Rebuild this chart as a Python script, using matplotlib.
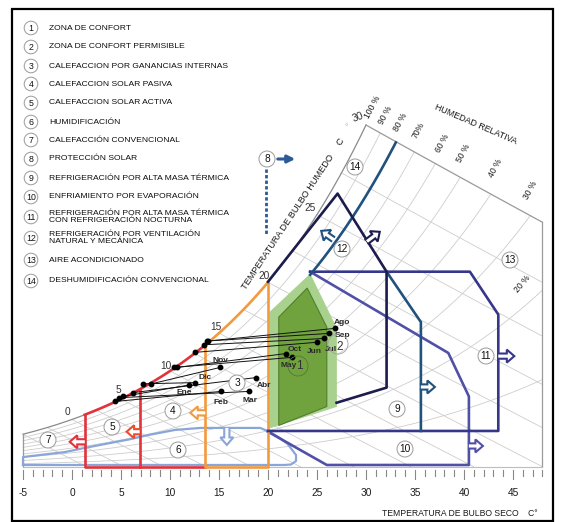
import numpy as np
import matplotlib
matplotlib.use("Agg")
import matplotlib.pyplot as plt
import matplotlib.transforms as mtransforms
from matplotlib.patches import Polygon, Circle, Rectangle

plt.rcParams['font.family'] = ['Liberation Sans', 'DejaVu Sans']

# ---------------- monthly conditions (dry bulb °C, humidity ratio g/kg) ----------------
months = ['Ene', 'Feb', 'Mar', 'Abr', 'May', 'Jun', 'Jul', 'Ago', 'Sep', 'Oct', 'Nov', 'Dic']
t_min = [5.2, 4.4, 4.8, 6.2, 10.4, 12.6, 13.5, 13.9, 13.8, 10.7, 8.1, 7.2]
w_at_tmin = [5.6, 5.2, 5.5, 5.9, 7.9, 9.1, 9.7, 10.0, 10.0, 7.9, 6.6, 6.6]
t_max = [11.9, 15.2, 18.1, 18.8, 22.4, 25.0, 25.7, 26.8, 26.2, 21.8, 15.1, 12.6]
w_at_tmax = [6.5, 6.0, 6.0, 7.1, 8.7, 9.9, 10.2, 11.0, 10.6, 9.0, 7.9, 6.7]
month_dx = [-4, 0, 1, 8, -3, -3, 7, 7, 14, 9, 0, 10]
month_dy = [-7, -11, -9, -8, -8, -9, -11, 6, -2, 4, 7, 5]

# ---------------- strategy zones (dry bulb °C, humidity ratio g/kg) ----------------
zone1_T = [21.1, 24.0, 26.0, 26.0, 21.1]
zone1_W = [11.9, 14.2, 11.1, 4.8, 3.3]
zone2_T = [20.2, 24.3, 27.0, 27.0, 20.2]
zone2_W = [12.3, 15.3, 11.0, 4.8, 3.1]
zone5_T = [1.3, 6.9, 13.6]          # red verticals / bottom limits
zone4_T = [13.6, 20.0]              # orange verticals
zone6_T = [-5.0, -5.0, -0.7, 1.8, 4.4, 5.9, 7.8, 10.5, 13.1, 16.1, 19.2, 20.2, 21.2,
           22.0, 22.55, 22.86, 22.86, 22.35, 21.7, -5.0]
zone6_W = [0.16, 0.79, 1.19, 1.59, 1.98, 2.2, 2.54, 2.94, 3.1, 3.1, 3.1, 2.78, 2.3,
           1.83, 1.27, 0.95, 0.48, 0.2, 0.16, 0.16]
zone12_T = [20.0, 27.1, 32.1, 32.1, 27.0]
zone12_W = [14.7, 21.7, 15.5, 6.3, 5.1]
zone9_T = [32.1, 35.6, 35.6]
zone9_W = [15.5, 11.5, 2.86]
zone11_T = [24.3, 40.6, 43.5, 43.5, 20.0]
zone11_W = [15.5, 15.5, 12.1, 2.86, 2.86]
zone10_T = [24.3, 38.4, 40.5, 40.5, 26.0, 20.0]
zone10_W = [15.5, 9.05, 5.6, 0.16, 0.16, 2.8]
dehum_rh = 0.80
dehum_t0 = 24.3

legend_nums = ['1', '2', '3', '4', '5', '6', '7', '8', '9', '10', '11', '12', '13', '14']
legend_texts = ['ZONA DE CONFORT', 'ZONA DE CONFORT PERMISIBLE',
                'CALEFACCION POR GANANCIAS INTERNAS', 'CALEFACCION SOLAR PASIVA',
                'CALEFACCION SOLAR ACTIVA', 'HUMIDIFICACIÓN', 'CALEFACCIÓN CONVENCIONAL',
                'PROTECCIÓN SOLAR', 'REFRIGERACIÓN POR ALTA MASA TÉRMICA',
                'ENFRIAMIENTO POR EVAPORACIÓN',
                'REFRIGERACIÓN POR ALTA MASA TÉRMICA\nCON REFRIGERACIÓN NOCTURNA',
                'REFRIGERACIÓN POR VENTILACIÓN\nNATURAL Y MECÁNICA',
                'AIRE ACONDICIONADO', 'DESHUMIDIFICACIÓN CONVENCIONAL']
legend_y = [28, 47, 66, 84, 103, 122, 140, 159, 178, 197, 217, 238, 260, 281]

x_ticks = list(range(-5, 49))
x_labels = [-5, 0, 5, 10, 15, 20, 25, 30, 35, 40, 45]
wb_labels = [0, 5, 10, 15, 20, 25, 30]
rh_levels = [0.1, 0.2, 0.3, 0.4, 0.5, 0.6, 0.7, 0.8, 0.9]

# ---------------- psychrometrics ----------------
P_ATM = 101.325


def p_ws(T):
    return 0.61094 * np.exp(17.625 * T / (T + 243.04))


def w_rh(T, rh):
    p = rh * p_ws(T)
    return 622.0 * p / (P_ATM - p)


def w_wb(T, tw):
    ws = w_rh(tw, 1.0) / 1000.0
    return 1000.0 * ((2501 - 2.326 * tw) * ws - 1.006 * (T - tw)) / (2501 + 1.86 * T - 4.186 * tw)


T_LEFT, T_RIGHT, TW_TOP = -5.0, 48.0, 30.0


def w_top(T):
    T = np.asarray(T, dtype=float)
    return np.where(T <= TW_TOP, w_rh(T, 1.0), w_wb(T, TW_TOP))


# ---------------- figure ----------------
W_PX, H_PX = 564, 522
fig = plt.figure(figsize=(W_PX / 100, H_PX / 100), dpi=100)
ax = fig.add_axes([0, 0, 1, 1])
ax.set_xlim((0 - 72) / 9.8, (W_PX - 72) / 9.8)
ax.set_ylim((467 - H_PX) / 12.6, 467 / 12.6)
ax.axis('off')
pix = mtransforms.Affine2D().scale(1 / W_PX, -1 / H_PX).translate(0, 1) + ax.transAxes


def to_pix(T, W):
    return pix.inverted().transform(ax.transData.transform((T, W)))


GRID = '#cdcdcd'
# relative humidity curves
Ts = np.linspace(T_LEFT, T_RIGHT, 1200)
for rh in rh_levels:
    w = w_rh(Ts, rh)
    ok = w <= w_top(Ts)
    idx = np.argmax(~ok) if (~ok).any() else len(Ts)
    ax.plot(Ts[:idx], w[:idx], color=GRID, lw=0.6, zorder=1)
# wet bulb lines
for tw in np.arange(-5, 30, 2.5):
    tt = np.linspace(tw, T_RIGHT, 400)
    ww = w_wb(tt, tw)
    ok = ww >= 0
    ax.plot(tt[ok], ww[ok], color=GRID, lw=0.6, zorder=1)
# chart boundary
tsat = np.linspace(T_LEFT, TW_TOP, 300)
ax.plot(tsat, w_rh(tsat, 1.0), color='#8a8a8a', lw=0.9, zorder=1.5)
ttop = np.linspace(TW_TOP, T_RIGHT, 50)
ax.plot(ttop, w_wb(ttop, TW_TOP), color='#9a9a9a', lw=0.9, zorder=1.5)
ax.plot([T_RIGHT, T_RIGHT], [0, w_wb(T_RIGHT, TW_TOP)], color='#9a9a9a', lw=0.9, zorder=1.5)
ax.plot([T_LEFT, T_LEFT], [0, w_rh(T_LEFT, 1.0)], color='#9a9a9a', lw=0.9, zorder=1.5)
ax.plot([T_LEFT, T_RIGHT], [0, 0], color='#bdbdbd', lw=0.8, zorder=1.5)

# comfort zones
ax.add_patch(Polygon(np.column_stack([zone2_T, zone2_W]), closed=True,
                     facecolor='#a9d18e', edgecolor='#a9d18e', lw=0.5, zorder=2))
ax.add_patch(Polygon(np.column_stack([zone1_T, zone1_W]), closed=True,
                     facecolor='#70a33e', edgecolor='#527d2c', lw=0.8, zorder=2.1))

RED, ORANGE = '#e2323b', '#f39a3d'
NAVY, TEAL, PURPLE, VIOLET = '#1c1c4e', '#21527e', '#36368a', '#5050a6'
LBLUE = '#8aa6d8'
LW = 1.9

# humidification zone
ax.plot(zone6_T, zone6_W, color=LBLUE, lw=1.6, zorder=2.5, solid_joinstyle='round')

# heating zones (red / orange)
t_red = np.linspace(zone5_T[0], zone5_T[2], 100)
ax.plot(t_red, w_rh(t_red, 1.0), color=RED, lw=LW, zorder=3)
ax.plot([zone5_T[0], zone5_T[0], zone5_T[2]], [w_rh(zone5_T[0], 1.0), 0, 0], color=RED, lw=LW, zorder=3)
ax.plot([zone5_T[1], zone5_T[1]], [w_rh(zone5_T[1], 1.0), 0], color=RED, lw=LW, zorder=3)
t_or = np.linspace(zone4_T[0], zone4_T[1], 60)
ax.plot(t_or, w_rh(t_or, 1.0), color=ORANGE, lw=LW, zorder=3)
ax.plot([zone4_T[0], zone4_T[0], zone4_T[1], zone4_T[1]],
        [w_rh(zone4_T[0], 1.0), 0, 0, w_rh(zone4_T[1], 1.0)], color=ORANGE, lw=LW, zorder=3.1)

# cooling zones
ax.plot(zone10_T, zone10_W, color=VIOLET, lw=LW, zorder=3)
ax.plot(zone11_T, zone11_W, color=PURPLE, lw=LW, zorder=3.1)
ax.plot(zone9_T, zone9_W, color=TEAL, lw=LW, zorder=3.2)
ax.plot(zone12_T, zone12_W, color=NAVY, lw=LW, zorder=3.3)
t80 = np.linspace(dehum_t0, T_RIGHT, 600)
w80 = w_rh(t80, dehum_rh)
k = np.argmax(w80 > w_top(t80))
ax.plot(t80[:k], w80[:k], color=TEAL, lw=LW, zorder=3.2)


def block_arrow(T, W, ang, color, L=15, s=2.6, h=6.5, hl=7.5, z=4):
    x0, y0 = to_pix(T, W)
    a = np.deg2rad(ang)
    ux, uy = np.cos(a), -np.sin(a)
    nx, ny = -uy, ux
    loc = [(0, s), (L - hl, s), (L - hl, h), (L, 0), (L - hl, -h), (L - hl, -s), (0, -s)]
    pts = np.array([(x0 + u * ux + v * nx, y0 + u * uy + v * ny) for u, v in loc])
    ax.add_patch(Polygon(pts, closed=True, facecolor='white', edgecolor='none', transform=pix, zorder=z))
    ax.plot(pts[:, 0], pts[:, 1], color=color, lw=1.5, transform=pix, zorder=z + 0.1,
            solid_joinstyle='miter')


block_arrow(1.3, 2.0, 180, RED)
block_arrow(6.9, 2.8, 180, '#ee4b2b', L=13)
block_arrow(13.6, 4.3, 180, ORANGE)
block_arrow(15.8, 3.1, 270, LBLUE, L=17)
block_arrow(26.6, 18.1, 145, TEAL, L=14)
block_arrow(30.1, 17.9, 37, NAVY, L=16)
block_arrow(35.6, 6.35, 0, TEAL, L=14)
block_arrow(43.5, 8.8, 0, PURPLE, L=16)
block_arrow(40.5, 1.67, 0, VIOLET, L=14)

# monthly lines
for i, m in enumerate(months):
    ax.plot([t_min[i], t_max[i]], [w_at_tmin[i], w_at_tmax[i]], color='#111111', lw=0.7, zorder=5)
ax.plot(t_min, w_at_tmin, 'o', color='black', ms=3.2, zorder=5.5)
ax.plot(t_max, w_at_tmax, 'o', color='black', ms=3.2, zorder=5.5)
for i, m in enumerate(months):
    ax.annotate(m, (t_max[i], w_at_tmax[i]), xytext=(month_dx[i], month_dy[i]),
                textcoords='offset pixels', ha='center', va='center', fontsize=6,
                fontweight='bold', color='#2a2a2a', zorder=6)


def num_circle(x, y, s, r=7.5, fs=7, ec='#9a9a9a', fc='white', z=6):
    ax.add_patch(Circle((x, y), r, transform=pix, facecolor=fc, edgecolor=ec, lw=0.7, zorder=z))
    ax.text(x, y + 0.3, s, transform=pix, ha='center', va='center', fontsize=fs,
            color='#111111', zorder=z + 0.1)


# zone numbers inside the chart
chart_nums = [('7', 48, 440), ('5', 112, 427), ('4', 173, 411), ('6', 178, 450), ('3', 237, 383),
              ('9', 397, 409), ('10', 405, 449), ('11', 486, 356), ('12', 342, 249),
              ('13', 510, 260), ('14', 355, 167), ('8', 267, 159)]
for s, x, y in chart_nums:
    num_circle(x, y, s, r=8, fs=7.3)
ax.add_patch(Circle((298, 366), 10, transform=pix, facecolor='none', edgecolor='#58753a', lw=0.6, zorder=6))
ax.text(299, 366, '1', transform=pix, ha='center', va='center', fontsize=8.5, color='#333333', zorder=6)
ax.add_patch(Circle((338, 344), 10, transform=pix, facecolor='none', edgecolor='#a0a0a0', lw=0.6, zorder=6))
ax.text(340, 347, '2', transform=pix, ha='center', va='center', fontsize=8.5, color='#333333', zorder=6)

# solar protection marker
ax.annotate('', xy=(298, 159), xytext=(275, 159), xycoords=pix, textcoords=pix,
            arrowprops=dict(arrowstyle='-|>', color='#2c5a96', lw=2.2, mutation_scale=11), zorder=6)
ax.plot([266, 266], [169, 234], transform=pix, color='#2c5a96', lw=2.0, ls=(0, (1.2, 0.8)), zorder=6)

# wet bulb scale
wb_pos = [(67, 412), (118, 390), (166, 366), (216, 327), (264, 276), (310, 208), (358, 117)]
for v, (x, y) in zip(wb_labels, wb_pos):
    ax.text(x, y, str(v), transform=pix, ha='center', va='center', fontsize=7.3,
            color='#333333', rotation=20 if v == 30 else 0)
ax.text(288, 222, 'TEMPERATURA DE BULBO HUMEDO', transform=pix, ha='center', va='center',
        fontsize=6.6, rotation=56.5, color='#1a1a1a', rotation_mode='anchor')
ax.text(340, 142, 'C', transform=pix, ha='center', va='center', fontsize=6.8, rotation=56.5, color='#1a1a1a')
ax.text(346, 128, '°', transform=pix, ha='center', va='center', fontsize=6, color='#aaaaaa')

# relative humidity labels
rh_lab = [('100 %', 373, 107), ('90 %', 385, 115), ('80 %', 400, 122), ('70%', 418, 130),
          ('60 %', 442, 143), ('50 %', 463, 153), ('40 %', 495, 168), ('30 %', 530, 190),
          ('20 %', 522, 284)]
for s, x, y in rh_lab:
    ax.text(x, y, s, transform=pix, ha='center', va='center', fontsize=6.2,
            rotation=62 if s != '20 %' else 50, color='#1a1a1a')
ax.text(476, 124, 'HUMEDAD RELATIVA', transform=pix, ha='center', va='center', fontsize=6.4,
        rotation=-23.4, color='#1a1a1a', rotation_mode='anchor')

# dry bulb axis
for t in x_ticks:
    long_tick = (t % 5 == 0)
    ax.plot([t, t], [-0.2, -0.95 if long_tick else -0.75], color='#888888', lw=0.8, zorder=2)
for v in x_labels:
    ax.text(v, (467 - 493) / 12.6, str(v), ha='center', va='center', fontsize=7.3, color='#1a1a1a')
ax.text(538, 513, 'TEMPERATURA DE BULBO SECO    C°', transform=pix, ha='right', va='center',
        fontsize=6.2, color='#1a1a1a')

# legend
for s, txt, y in zip(legend_nums, legend_texts, legend_y):
    num_circle(31, y, s, r=6.8, fs=6.3)
    ax.text(49, y, txt, transform=pix, ha='left', va='center', fontsize=6.1, color='#0d0d0d',
            linespacing=1.05)

# frame
ax.add_patch(Rectangle((12, 9), 541, 512, transform=pix, facecolor='none', edgecolor='black',
                       lw=1.6, zorder=10))

fig.savefig('out.png', dpi=100)
